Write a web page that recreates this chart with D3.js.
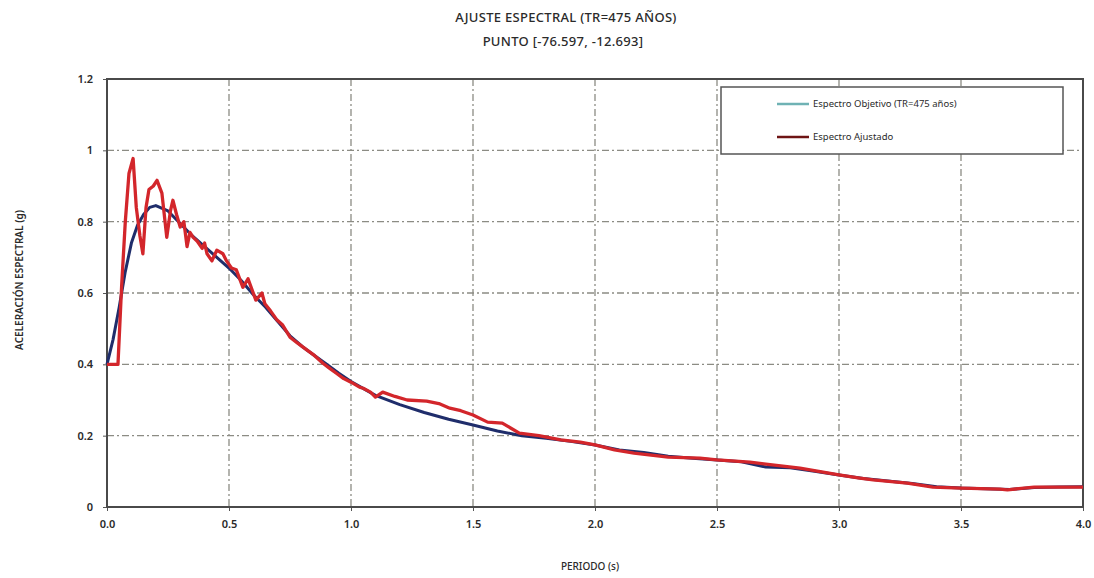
<!DOCTYPE html>
<html>
<head>
<meta charset="utf-8">
<script src="https://cdn.jsdelivr.net/npm/d3@7"></script>
<style>
  body { margin: 0; background: #fff; }
  svg text { font-family: "Noto Sans", "DejaVu Sans", sans-serif; fill: #2a2a2a; }
</style>
</head>
<body>
<div id="chart"></div>
<script>
// espectro objetivo [periodo (s), Sa (g)]
const objetivo = [
  [0, 0.40], [0.025, 0.47], [0.05, 0.56], [0.075, 0.66], [0.1, 0.74], [0.125, 0.79],
  [0.15, 0.82], [0.175, 0.84], [0.2, 0.845], [0.25, 0.83], [0.3, 0.795], [0.35, 0.76],
  [0.4, 0.73], [0.45, 0.70], [0.5, 0.67], [0.55, 0.635], [0.6, 0.595], [0.65, 0.56],
  [0.7, 0.52], [0.75, 0.48], [0.8, 0.45], [0.85, 0.425], [0.9, 0.40], [0.95, 0.375],
  [1.0, 0.352], [1.1, 0.313], [1.2, 0.287], [1.3, 0.265], [1.4, 0.246], [1.5, 0.23],
  [1.6, 0.213], [1.7, 0.2], [1.8, 0.193], [1.9, 0.184], [2.0, 0.174], [2.1, 0.16],
  [2.2, 0.153], [2.3, 0.142], [2.4, 0.137], [2.5, 0.132], [2.6, 0.127], [2.7, 0.112],
  [2.8, 0.11], [2.9, 0.1], [3.0, 0.09], [3.1, 0.08], [3.2, 0.073], [3.3, 0.066],
  [3.4, 0.057], [3.5, 0.053], [3.6, 0.051], [3.7, 0.049], [3.8, 0.055], [3.9, 0.056], [4.0, 0.057]
];

// espectro ajustado [periodo (s), Sa (g)]
const ajustado = [
  [0, 0.40], [0.045, 0.40], [0.06, 0.62], [0.075, 0.80], [0.09, 0.935], [0.107, 0.977],
  [0.12, 0.84], [0.135, 0.76], [0.147, 0.71], [0.16, 0.84], [0.172, 0.89], [0.19, 0.90],
  [0.205, 0.916], [0.225, 0.88], [0.245, 0.756], [0.26, 0.83], [0.27, 0.86], [0.285, 0.82],
  [0.30, 0.785], [0.315, 0.80], [0.328, 0.73], [0.34, 0.77], [0.353, 0.756], [0.37, 0.745],
  [0.39, 0.725], [0.40, 0.74], [0.41, 0.71], [0.43, 0.69], [0.45, 0.72], [0.475, 0.71],
  [0.49, 0.69], [0.51, 0.67], [0.53, 0.665], [0.557, 0.616], [0.578, 0.64], [0.61, 0.58],
  [0.635, 0.60], [0.647, 0.57], [0.67, 0.55], [0.697, 0.524], [0.72, 0.51], [0.75, 0.476],
  [0.78, 0.46], [0.82, 0.44], [0.85, 0.425], [0.885, 0.403], [0.91, 0.39], [0.94, 0.375],
  [0.97, 0.36], [1.0, 0.35], [1.035, 0.336], [1.05, 0.333], [1.08, 0.322], [1.1, 0.308],
  [1.13, 0.322], [1.18, 0.31], [1.23, 0.30], [1.31, 0.297], [1.36, 0.29], [1.405, 0.277],
  [1.45, 0.27], [1.5, 0.258], [1.56, 0.238], [1.62, 0.235], [1.69, 0.207], [1.77, 0.2],
  [1.86, 0.188], [1.94, 0.182], [2.0, 0.174], [2.08, 0.16], [2.16, 0.151], [2.3, 0.14],
  [2.43, 0.137], [2.5, 0.132], [2.635, 0.126], [2.7, 0.12], [2.84, 0.109], [3.0, 0.09],
  [3.085, 0.081], [3.14, 0.076], [3.28, 0.067], [3.385, 0.056], [3.5, 0.053], [3.66, 0.05],
  [3.69, 0.048], [3.8, 0.056], [4.0, 0.056]
];

const xTicks = [0, 0.5, 1.0, 1.5, 2.0, 2.5, 3.0, 3.5, 4.0];
const yTicks = [0, 0.2, 0.4, 0.6, 0.8, 1.0, 1.2];
const yTickLabels = ["0", "0.2", "0.4", "0.6", "0.8", "1", "1.2"];
const seriesNames = ["Espectro Objetivo (TR=475 años)", "Espectro Ajustado"];

const width = 1094, height = 578;
const margin = { top: 79, right: 11, bottom: 71, left: 107 };
const w = width - margin.left - margin.right;
const h = height - margin.top - margin.bottom;

const svg = d3.select('#chart').append('svg')
  .attr('width', width)
  .attr('height', height);

svg.append('text')
  .attr('x', 566).attr('y', 22)
  .attr('text-anchor', 'middle')
  .style('font-size', '13px').style('font-weight', 500).style('letter-spacing', '0.3px')
  .text('AJUSTE ESPECTRAL (TR=475 AÑOS)');
svg.append('text')
  .attr('x', 563).attr('y', 46)
  .attr('text-anchor', 'middle')
  .style('font-size', '13px').style('font-weight', 500).style('letter-spacing', '0.3px')
  .text('PUNTO [-76.597, -12.693]');

const x = d3.scaleLinear().domain([0, 4]).range([0, w]);
const y = d3.scaleLinear().domain([0, 1.2]).range([h, 0]);

const g = svg.append('g')
  .attr('transform', 'translate(' + margin.left + ',' + margin.top + ')');

// grid (dash-dot)
g.append('g')
  .selectAll('line')
  .data(xTicks.slice(1, -1))
  .enter().append('line')
  .attr('x1', d => x(d)).attr('x2', d => x(d))
  .attr('y1', 0).attr('y2', h)
  .attr('stroke', '#8c8c84').attr('stroke-width', 1.3)
  .attr('stroke-dasharray', '7,3,2,3');
g.append('g')
  .selectAll('line')
  .data(yTicks.slice(1, -1))
  .enter().append('line')
  .attr('x1', 0).attr('x2', w)
  .attr('y1', d => y(d)).attr('y2', d => y(d))
  .attr('stroke', '#8c8c84').attr('stroke-width', 1.3)
  .attr('stroke-dasharray', '7,3,2,3');

// axes
const xAxis = g.append('g')
  .attr('transform', 'translate(0,' + h + ')')
  .call(d3.axisBottom(x).tickValues(xTicks).tickFormat(d3.format('.1f')).tickSize(4).tickPadding(9));
const yAxis = g.append('g')
  .call(d3.axisLeft(y).tickValues(yTicks).tickFormat((d, i) => yTickLabels[i]).tickSize(4).tickPadding(10));
[xAxis, yAxis].forEach(a => {
  a.select('.domain').remove();
  a.selectAll('line').attr('stroke', '#555');
  a.selectAll('text')
    .style('font-size', '11px').style('font-weight', 600)
    .style('font-family', '"Noto Sans", sans-serif').attr('fill', '#2a2a2a');
});

// frame
g.append('rect')
  .attr('x', 0).attr('y', 0).attr('width', w).attr('height', h)
  .attr('fill', 'none').attr('stroke', '#4a4a4a').attr('stroke-width', 2);

const line = d3.line().x(d => x(d[0])).y(d => y(d[1]));

g.append('path').datum(objetivo)
  .attr('d', line)
  .attr('fill', 'none').attr('stroke', '#1f2d6b').attr('stroke-width', 3)
  .attr('stroke-linejoin', 'round');
g.append('path').datum(ajustado)
  .attr('d', line)
  .attr('fill', 'none').attr('stroke', '#d3262b').attr('stroke-width', 3.3)
  .attr('stroke-linejoin', 'round');

// axis titles
svg.append('text')
  .attr('transform', 'translate(23,280) rotate(-90)')
  .attr('text-anchor', 'middle')
  .style('font-size', '10px').style('font-weight', 600)
  .text('ACELERACIÓN ESPECTRAL (g)');
svg.append('text')
  .attr('x', 590).attr('y', 570)
  .attr('text-anchor', 'middle')
  .style('font-size', '10px').style('font-weight', 500)
  .text('PERIODO (s)');

// legend
const leg = svg.append('g').attr('transform', 'translate(721,87)');
leg.append('rect')
  .attr('width', 342).attr('height', 67)
  .attr('fill', '#fff').attr('stroke', '#555').attr('stroke-width', 1.5);
const legColors = ['#6fb2b4', '#6e1414'];
const items = leg.selectAll('.item')
  .data(seriesNames)
  .enter().append('g')
  .attr('class', 'item')
  .attr('transform', (d, i) => 'translate(0,' + (17 + i * 33) + ')');
items.append('line')
  .attr('x1', 56).attr('x2', 88)
  .attr('stroke', (d, i) => legColors[i]).attr('stroke-width', 2.5);
items.append('text')
  .attr('x', 92).attr('dy', '0.35em')
  .style('font-size', '9.5px')
  .text(d => d);
</script>
</body>
</html>
